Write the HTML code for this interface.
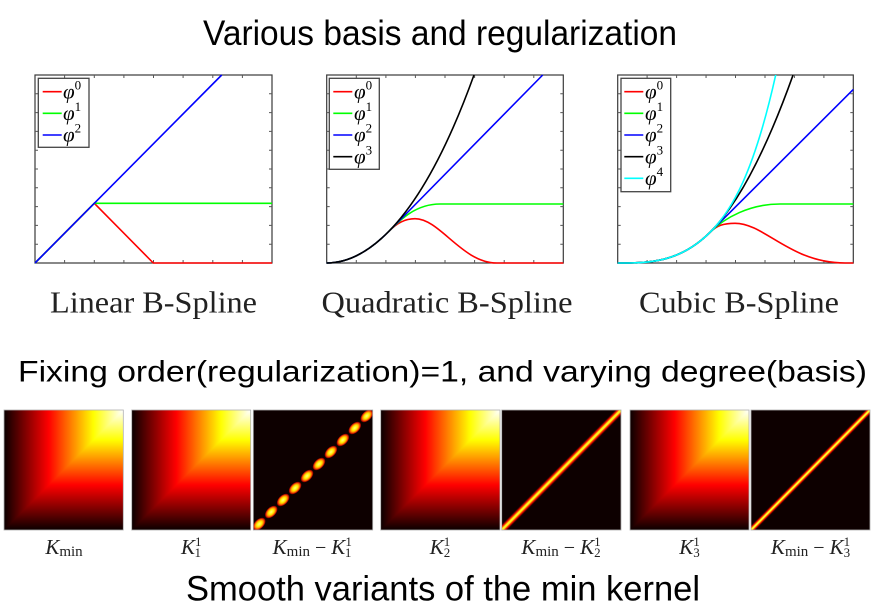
<!DOCTYPE html>
<html><head><meta charset="utf-8"><style>
html,body{margin:0;padding:0;background:#fff;}
svg{display:block;}
</style></head><body>
<svg xmlns="http://www.w3.org/2000/svg" width="885" height="615" viewBox="0 0 885 615">
<defs>
  <linearGradient id="hotH" x1="0" y1="0" x2="1" y2="0">
    <stop offset="0" stop-color="#0b0000"/><stop offset="0.375" stop-color="#ff0000"/>
    <stop offset="0.75" stop-color="#ffff00"/><stop offset="1" stop-color="#ffffff"/>
  </linearGradient>
  <linearGradient id="hotV" x1="0" y1="1" x2="0" y2="0">
    <stop offset="0" stop-color="#0b0000"/><stop offset="0.375" stop-color="#ff0000"/>
    <stop offset="0.75" stop-color="#ffff00"/><stop offset="1" stop-color="#ffffff"/>
  </linearGradient>
  <radialGradient id="dia">
    <stop offset="0" stop-color="#ffff80"/><stop offset="0.4" stop-color="#ffee00"/>
    <stop offset="0.65" stop-color="#ff8800"/><stop offset="0.85" stop-color="#d01000"/>
    <stop offset="1" stop-color="#0d0000"/>
  </radialGradient>
  <symbol id="kmin" viewBox="0 0 100 100" preserveAspectRatio="none">
    <rect x="0" y="0" width="100" height="100" fill="url(#hotV)"/>
    <polygon points="0,0 100,0 0,100" fill="url(#hotH)"/>
  </symbol>
  <clipPath id="c1"><rect x="34" y="74" width="239" height="190.5"/></clipPath>
  <clipPath id="c2"><rect x="325.7" y="74" width="238.6" height="190.5"/></clipPath>
  <clipPath id="c3"><rect x="616.7" y="74" width="237.6" height="190.5"/></clipPath>
  <clipPath id="h3"><rect x="253.3" y="410" width="119.4" height="120"/></clipPath>
  <clipPath id="h5"><rect x="501.7" y="410" width="119.3" height="120"/></clipPath>
  <clipPath id="h7"><rect x="751" y="410" width="119" height="120"/></clipPath>
</defs>

<rect width="885" height="615" fill="#fff"/>

<!-- Title -->
<text x="440" y="45" font-family="Liberation Sans, sans-serif" font-size="35" text-anchor="middle" textLength="474" lengthAdjust="spacingAndGlyphs" fill="#000">Various basis and regularization</text>

<!-- ===== Plot 1 ===== -->
<rect x="35" y="75" width="237" height="188" fill="#fff" stroke="#3a3a3a" stroke-width="1.2"/>
<path d="M64.6,263v-3M94.3,263v-3M123.9,263v-3M153.5,263v-3M183.1,263v-3M212.8,263v-3M242.4,263v-3
M64.6,75v3M94.3,75v3M123.9,75v3M153.5,75v3M183.1,75v3M212.8,75v3M242.4,75v3
M35,93.8h3M35,112.6h3M35,131.4h3M35,150.2h3M35,169h3M35,187.8h3M35,206.6h3M35,225.4h3M35,244.2h3
M272,93.8h-3M272,112.6h-3M272,131.4h-3M272,150.2h-3M272,169h-3M272,187.8h-3M272,206.6h-3M272,225.4h-3M272,244.2h-3" stroke="#555" stroke-width="1" fill="none"/>
<g clip-path="url(#c1)" fill="none" stroke-width="1.6">
  <path d="M35,263 L94.3,203.3 L153.3,263 L272,263" stroke="#ff0000"/>
  <path d="M35,263 L94.3,203.3 L272,203.3" stroke="#00ff00"/>
  <path d="M35,263 L221.7,75" stroke="#0000ff"/>
</g>
<rect x="38.3" y="78.3" width="50.7" height="69" fill="#fff" stroke="#444" stroke-width="1.3"/>
<g stroke-width="1.6">
  <line x1="42.7" y1="91.7" x2="61.7" y2="91.7" stroke="#ff0000"/>
  <line x1="42.7" y1="113.3" x2="61.7" y2="113.3" stroke="#00ff00"/>
  <line x1="42.7" y1="135" x2="61.7" y2="135" stroke="#0000ff"/>
</g>
<g font-family="Liberation Serif, DejaVu Serif, serif" fill="#000">
  <text x="63" y="98.5" font-size="21" font-style="italic">φ<tspan font-size="13" font-style="normal" dy="-9">0</tspan></text>
  <text x="63" y="120" font-size="21" font-style="italic">φ<tspan font-size="13" font-style="normal" dy="-9">1</tspan></text>
  <text x="63" y="141.7" font-size="21" font-style="italic">φ<tspan font-size="13" font-style="normal" dy="-9">2</tspan></text>
</g>

<!-- ===== Plot 2 ===== -->
<rect x="326.7" y="75" width="236.6" height="188" fill="#fff" stroke="#3a3a3a" stroke-width="1.2"/>
<path d="M356.3,263v-3M385.9,263v-3M415.4,263v-3M445,263v-3M474.6,263v-3M504.2,263v-3M533.8,263v-3
M356.3,75v3M385.9,75v3M415.4,75v3M445,75v3M474.6,75v3M504.2,75v3M533.8,75v3
M326.7,93.8h3M326.7,112.6h3M326.7,131.4h3M326.7,150.2h3M326.7,169h3M326.7,187.8h3M326.7,206.6h3M326.7,225.4h3M326.7,244.2h3
M563.3,93.8h-3M563.3,112.6h-3M563.3,131.4h-3M563.3,150.2h-3M563.3,169h-3M563.3,187.8h-3M563.3,206.6h-3M563.3,225.4h-3M563.3,244.2h-3" stroke="#555" stroke-width="1" fill="none"/>
<g clip-path="url(#c2)" fill="none" stroke-width="1.6">
  <path d="M326.7,263 Q357.7,263 388.7,231.5 C397,223 405,218.7 415,218.7 C440,218.7 462,263 497,263 L563.3,263" stroke="#ff0000"/>
  <path d="M326.7,263 Q357.7,263 388.7,231.5 C399,221 415,204 440,204 L563.3,204" stroke="#00ff00"/>
  <path d="M326.7,263 Q357.7,263 388.7,231.5 L542.7,75" stroke="#0000ff"/>
  <path d="M326.7,263 Q357.7,263 388.7,231.5 C417.13,202.58 445.57,153.78 474,75" stroke="#000000"/>
</g>
<rect x="329.3" y="78.3" width="50" height="91" fill="#fff" stroke="#444" stroke-width="1.3"/>
<g stroke-width="1.6">
  <line x1="333.3" y1="91.7" x2="352.3" y2="91.7" stroke="#ff0000"/>
  <line x1="333.3" y1="113.3" x2="352.3" y2="113.3" stroke="#00ff00"/>
  <line x1="333.3" y1="135" x2="352.3" y2="135" stroke="#0000ff"/>
  <line x1="333.3" y1="156.7" x2="352.3" y2="156.7" stroke="#000000"/>
</g>
<g font-family="Liberation Serif, DejaVu Serif, serif" fill="#000">
  <text x="354" y="98.5" font-size="21" font-style="italic">φ<tspan font-size="13" font-style="normal" dy="-9">0</tspan></text>
  <text x="354" y="120" font-size="21" font-style="italic">φ<tspan font-size="13" font-style="normal" dy="-9">1</tspan></text>
  <text x="354" y="141.7" font-size="21" font-style="italic">φ<tspan font-size="13" font-style="normal" dy="-9">2</tspan></text>
  <text x="354" y="163.4" font-size="21" font-style="italic">φ<tspan font-size="13" font-style="normal" dy="-9">3</tspan></text>
</g>

<!-- ===== Plot 3 ===== -->
<rect x="617.7" y="75" width="235.6" height="188" fill="#fff" stroke="#3a3a3a" stroke-width="1.2"/>
<path d="M647.1,263v-3M676.6,263v-3M706.05,263v-3M735.5,263v-3M765,263v-3M794.4,263v-3M823.9,263v-3
M647.1,75v3M676.6,75v3M706.05,75v3M735.5,75v3M765,75v3M794.4,75v3M823.9,75v3
M617.7,93.8h3M617.7,112.6h3M617.7,131.4h3M617.7,150.2h3M617.7,169h3M617.7,187.8h3M617.7,206.6h3M617.7,225.4h3M617.7,244.2h3
M853.3,93.8h-3M853.3,112.6h-3M853.3,131.4h-3M853.3,150.2h-3M853.3,169h-3M853.3,187.8h-3M853.3,206.6h-3M853.3,225.4h-3M853.3,244.2h-3" stroke="#555" stroke-width="1" fill="none"/>
<g clip-path="url(#c3)" fill="none" stroke-width="1.6">
  <path d="M617.7,263 C648.47,263 679.23,263 710,232.33 C717,225.3 724,223.3 735,223.3 C765,223.3 790,263 845,263 L853.3,263" stroke="#ff0000"/>
  <path d="M617.7,263 C648.47,263 679.23,263 710,232.33 C725,217.4 750,204 780,204 L853.3,204" stroke="#00ff00"/>
  <path d="M617.7,263 C648.47,263 679.23,263 710,232.33 L853.3,89.46" stroke="#0000ff"/>
  <path d="M617.7,263 C648.47,263 679.23,263 710,232.33 Q751.5,190.96 793,75.18" stroke="#000000"/>
  <path d="M617.7,263 C648.47,263 679.23,263 710,232.33 C731.9,210.5 753.8,173.13 775.7,75" stroke="#00ffff"/>
</g>
<rect x="621" y="78.3" width="49.7" height="113.4" fill="#fff" stroke="#444" stroke-width="1.3"/>
<g stroke-width="1.6">
  <line x1="624.3" y1="91.7" x2="643.3" y2="91.7" stroke="#ff0000"/>
  <line x1="624.3" y1="113.3" x2="643.3" y2="113.3" stroke="#00ff00"/>
  <line x1="624.3" y1="135" x2="643.3" y2="135" stroke="#0000ff"/>
  <line x1="624.3" y1="156.7" x2="643.3" y2="156.7" stroke="#000000"/>
  <line x1="624.3" y1="178.3" x2="643.3" y2="178.3" stroke="#00ffff"/>
</g>
<g font-family="Liberation Serif, DejaVu Serif, serif" fill="#000">
  <text x="645" y="98.5" font-size="21" font-style="italic">φ<tspan font-size="13" font-style="normal" dy="-9">0</tspan></text>
  <text x="645" y="120" font-size="21" font-style="italic">φ<tspan font-size="13" font-style="normal" dy="-9">1</tspan></text>
  <text x="645" y="141.7" font-size="21" font-style="italic">φ<tspan font-size="13" font-style="normal" dy="-9">2</tspan></text>
  <text x="645" y="163.4" font-size="21" font-style="italic">φ<tspan font-size="13" font-style="normal" dy="-9">3</tspan></text>
  <text x="645" y="185" font-size="21" font-style="italic">φ<tspan font-size="13" font-style="normal" dy="-9">4</tspan></text>
</g>

<!-- Plot captions -->
<g font-family="Liberation Serif, serif" font-size="31" fill="#222" text-anchor="middle">
  <text x="153.5" y="312.3" textLength="207" lengthAdjust="spacingAndGlyphs">Linear B-Spline</text>
  <text x="447" y="312.3" textLength="251" lengthAdjust="spacingAndGlyphs">Quadratic B-Spline</text>
  <text x="739" y="312.3" textLength="200" lengthAdjust="spacingAndGlyphs">Cubic B-Spline</text>
</g>

<!-- Second title -->
<text x="442.5" y="381.7" font-family="Liberation Sans, sans-serif" font-size="30" text-anchor="middle" textLength="849" lengthAdjust="spacingAndGlyphs" fill="#000">Fixing order(regularization)=1, and varying degree(basis)</text>

<!-- ===== Heatmaps ===== -->
<use href="#kmin" x="4" y="410" width="119.3" height="120"/>
<use href="#kmin" x="131.7" y="410" width="119" height="120"/>
<use href="#kmin" x="380.7" y="410" width="119.3" height="120"/>
<use href="#kmin" x="630" y="410" width="119" height="120"/>

<!-- Kmin - K1 -->
<rect x="253.3" y="410" width="119.4" height="120" fill="#0d0000"/>
<g clip-path="url(#h3)" fill="url(#dia)">
  <ellipse cx="259.27" cy="524" rx="7.8" ry="4.8" transform="rotate(-45 259.27 524)"/>
  <ellipse cx="271.21" cy="512" rx="7.8" ry="4.8" transform="rotate(-45 271.21 512)"/>
  <ellipse cx="283.15" cy="500" rx="7.8" ry="4.8" transform="rotate(-45 283.15 500)"/>
  <ellipse cx="295.09" cy="488" rx="7.8" ry="4.8" transform="rotate(-45 295.09 488)"/>
  <ellipse cx="307.03" cy="476" rx="7.8" ry="4.8" transform="rotate(-45 307.03 476)"/>
  <ellipse cx="318.97" cy="464" rx="7.8" ry="4.8" transform="rotate(-45 318.97 464)"/>
  <ellipse cx="330.91" cy="452" rx="7.8" ry="4.8" transform="rotate(-45 330.91 452)"/>
  <ellipse cx="342.85" cy="440" rx="7.8" ry="4.8" transform="rotate(-45 342.85 440)"/>
  <ellipse cx="354.79" cy="428" rx="7.8" ry="4.8" transform="rotate(-45 354.79 428)"/>
  <ellipse cx="366.73" cy="416" rx="7.8" ry="4.8" transform="rotate(-45 366.73 416)"/>
</g>

<!-- Kmin - K2 -->
<rect x="501.7" y="410" width="119.3" height="120" fill="#0d0000"/>
<g clip-path="url(#h5)" fill="none">
  <line x1="501.7" y1="530" x2="621" y2="410" stroke="#300000" stroke-width="8"/>
  <line x1="501.7" y1="530" x2="621" y2="410" stroke="#a00000" stroke-width="6.5"/>
  <line x1="501.7" y1="530" x2="621" y2="410" stroke="#f01800" stroke-width="5"/>
  <line x1="501.7" y1="530" x2="621" y2="410" stroke="#ff8000" stroke-width="3.5"/>
  <line x1="501.7" y1="530" x2="621" y2="410" stroke="#ffee20" stroke-width="2"/>
</g>

<!-- Kmin - K3 -->
<rect x="751" y="410" width="119" height="120" fill="#0d0000"/>
<g clip-path="url(#h7)" fill="none">
  <line x1="751" y1="530" x2="870" y2="410" stroke="#300000" stroke-width="6.5"/>
  <line x1="751" y1="530" x2="870" y2="410" stroke="#a00000" stroke-width="5.2"/>
  <line x1="751" y1="530" x2="870" y2="410" stroke="#f01800" stroke-width="4"/>
  <line x1="751" y1="530" x2="870" y2="410" stroke="#ff8800" stroke-width="2.8"/>
  <line x1="751" y1="530" x2="870" y2="410" stroke="#ffff30" stroke-width="1.5"/>
</g>

<!-- heatmap borders -->
<g fill="none" stroke="#b0b0b0" stroke-width="0.8">
  <rect x="4" y="410" width="119.3" height="120"/>
  <rect x="131.7" y="410" width="119" height="120"/>
  <rect x="253.3" y="410" width="119.4" height="120"/>
  <rect x="380.7" y="410" width="119.3" height="120"/>
  <rect x="501.7" y="410" width="119.3" height="120"/>
  <rect x="630" y="410" width="119" height="120"/>
  <rect x="751" y="410" width="119" height="120"/>
</g>

<!-- heatmap labels -->
<g font-family="Liberation Serif, serif" fill="#222" text-anchor="middle">
  <text x="64" y="554"><tspan font-style="italic" font-size="21">K</tspan><tspan font-size="15" dy="2">min</tspan></text>
  <text x="191" y="554"><tspan font-style="italic" font-size="21">K</tspan><tspan font-size="13" dy="-8">1</tspan><tspan font-size="13" dx="-6.5" dy="11">1</tspan></text>
  <text x="312" y="554"><tspan font-style="italic" font-size="21">K</tspan><tspan font-size="15" dy="2">min</tspan><tspan font-size="20" dy="-2"> − </tspan><tspan font-style="italic" font-size="21">K</tspan><tspan font-size="13" dy="-8">1</tspan><tspan font-size="13" dx="-6.5" dy="11">1</tspan></text>
  <text x="440" y="554"><tspan font-style="italic" font-size="21">K</tspan><tspan font-size="13" dy="-8">1</tspan><tspan font-size="13" dx="-6.5" dy="11">2</tspan></text>
  <text x="561" y="554"><tspan font-style="italic" font-size="21">K</tspan><tspan font-size="15" dy="2">min</tspan><tspan font-size="20" dy="-2"> − </tspan><tspan font-style="italic" font-size="21">K</tspan><tspan font-size="13" dy="-8">1</tspan><tspan font-size="13" dx="-6.5" dy="11">2</tspan></text>
  <text x="689.5" y="554"><tspan font-style="italic" font-size="21">K</tspan><tspan font-size="13" dy="-8">1</tspan><tspan font-size="13" dx="-6.5" dy="11">3</tspan></text>
  <text x="810.5" y="554"><tspan font-style="italic" font-size="21">K</tspan><tspan font-size="15" dy="2">min</tspan><tspan font-size="20" dy="-2"> − </tspan><tspan font-style="italic" font-size="21">K</tspan><tspan font-size="13" dy="-8">1</tspan><tspan font-size="13" dx="-6.5" dy="11">3</tspan></text>
</g>

<!-- Bottom title -->
<text x="443" y="600.7" font-family="Liberation Sans, sans-serif" font-size="35" text-anchor="middle" textLength="514" lengthAdjust="spacingAndGlyphs" fill="#000">Smooth variants of the min kernel</text>
</svg>
</body></html>
